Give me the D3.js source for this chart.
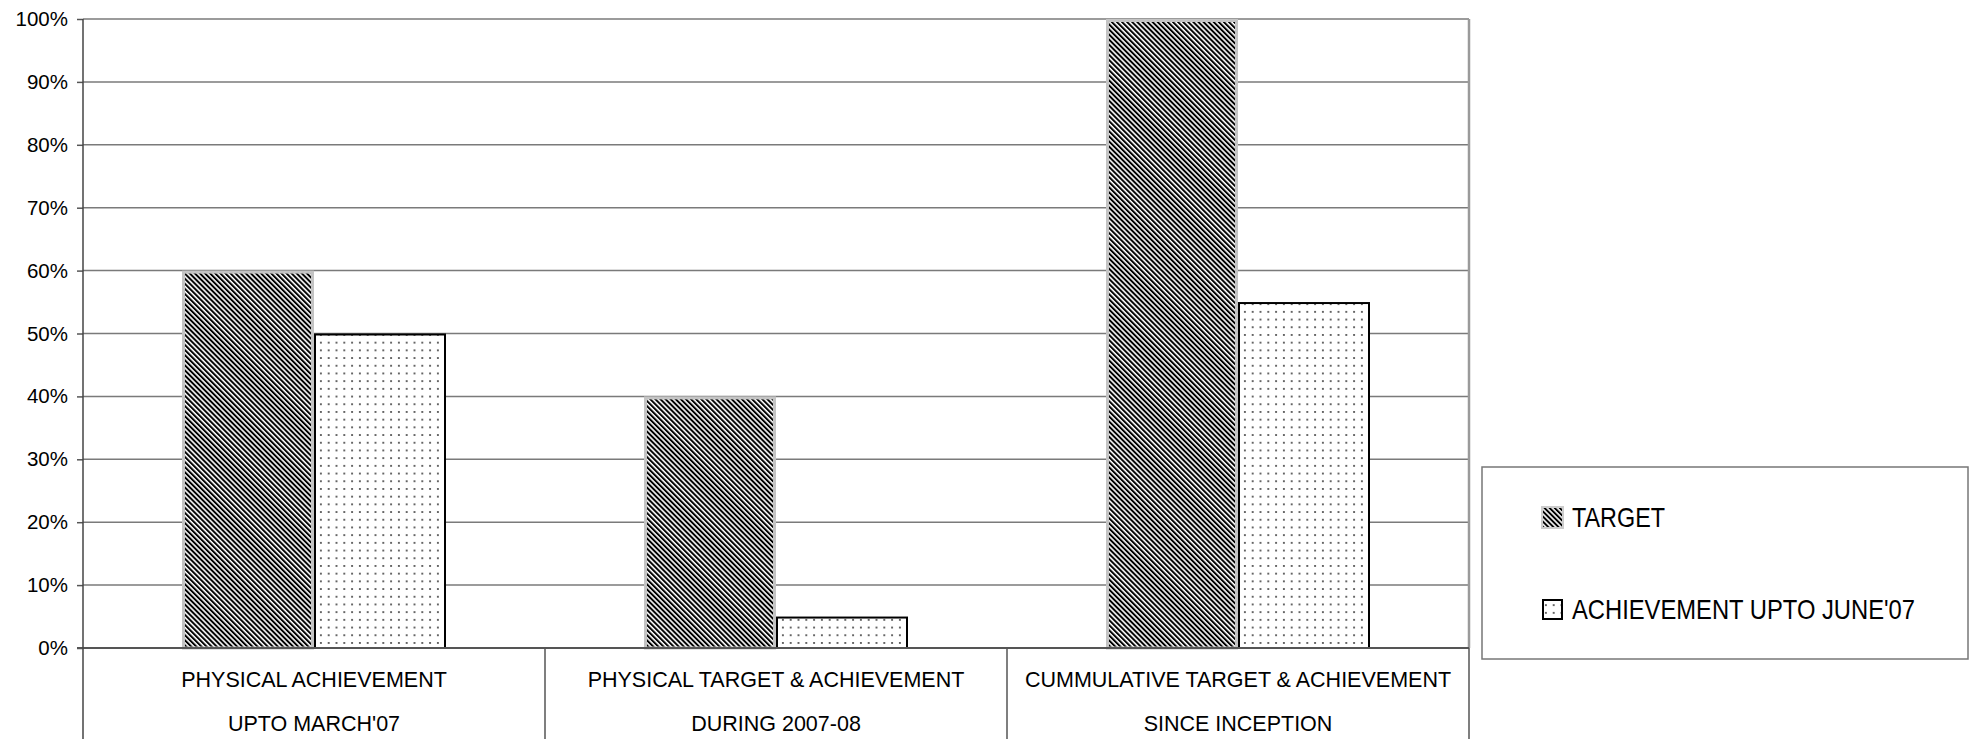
<!DOCTYPE html>
<html>
<head>
<meta charset="utf-8">
<script src="https://cdn.jsdelivr.net/npm/d3@7"></script>
<style>
  html, body { margin: 0; padding: 0; background: #fff; }
  svg { display: block; }
</style>
</head>
<body>
<svg id="chart" width="1970" height="739"></svg>
<script>
// ---- data ----
const categoryLine1 = ["PHYSICAL ACHIEVEMENT", "PHYSICAL TARGET & ACHIEVEMENT", "CUMMULATIVE TARGET & ACHIEVEMENT"];
const categoryLine2 = ["UPTO MARCH'07", "DURING 2007-08", "SINCE INCEPTION"];
const seriesNames = ["TARGET", "ACHIEVEMENT UPTO JUNE'07"];
const targetValues = [0.60, 0.40, 1.00];
const achievementValues = [0.50, 0.05, 0.55];
const yTicks = [0, 0.1, 0.2, 0.3, 0.4, 0.5, 0.6, 0.7, 0.8, 0.9, 1.0];

(function () {
const seriesValues = [targetValues, achievementValues];
const rows = categoryLine1.map((c, i) => ({ cat: i, line1: c, line2: categoryLine2[i] }));

// ---- layout ----
const pLeft = 83, pRight = 1469, pTop = 19, pBottom = 648, catBottom = 739;
const svg = d3.select("#chart");
const defs = svg.append("defs");

// hatch pattern for TARGET
const hatch = defs.append("pattern")
  .attr("id", "hatch").attr("patternUnits", "userSpaceOnUse")
  .attr("width", 3.6).attr("height", 10)
  .attr("patternTransform", "rotate(-45)");
hatch.append("rect").attr("width", 3.6).attr("height", 10).attr("fill", "#fff");
hatch.append("rect").attr("width", 2.0).attr("height", 10).attr("fill", "#000");

// dotted pattern for ACHIEVEMENT
const dots = defs.append("pattern")
  .attr("id", "dots").attr("patternUnits", "userSpaceOnUse")
  .attr("width", 7.8).attr("height", 7.7);
dots.append("rect").attr("width", 7.8).attr("height", 7.7).attr("fill", "#fff");
dots.append("circle").attr("cx", 3.9).attr("cy", 3.8).attr("r", 1.0).attr("fill", "#333");

const fills = ["url(#hatch)", "url(#dots)"];
const strokes = ["#c4c4c4", "#000"];
const strokeW = [3, 2];

const x = d3.scaleBand().domain(rows.map(r => r.cat)).range([pLeft, pRight]).paddingInner(0).paddingOuter(0);
const xs = d3.scaleBand().domain([0, 1]).range([0, x.bandwidth()]).paddingInner(0).paddingOuter(0.75);
const y = d3.scaleLinear().domain([0, 1]).range([pBottom, pTop]);

// gridlines
svg.append("g").selectAll("line").data(yTicks.filter(t => t > 0)).join("line")
  .attr("x1", pLeft).attr("x2", pRight)
  .attr("y1", d => y(d)).attr("y2", d => y(d))
  .attr("stroke", "#7a7a7a").attr("stroke-width", 1.5);

// right border
svg.append("line").attr("x1", pRight).attr("x2", pRight).attr("y1", pTop).attr("y2", pBottom)
  .attr("stroke", "#9a9a9a").attr("stroke-width", 2.5);

// y axis
const yAxis = d3.axisLeft(y).tickValues(yTicks).tickFormat(d3.format(".0%")).tickSize(6).tickPadding(9);
const gy = svg.append("g").attr("transform", `translate(${pLeft},0)`).call(yAxis);
gy.select(".domain").remove();
gy.selectAll(".tick line").attr("stroke", "#555").attr("stroke-width", 1.5);
gy.selectAll(".tick text").attr("font-family", "Liberation Sans, Arial, sans-serif")
  .attr("font-size", 20.5).attr("fill", "#000");

// bars
const groups = svg.append("g").selectAll("g").data(rows).join("g")
  .attr("transform", d => `translate(${x(d.cat)},0)`);
groups.selectAll("rect").data(d => seriesValues.map((vals, s) => ({ s, v: vals[d.cat] }))).join("rect")
  .attr("x", d => xs(d.s) + strokeW[d.s] / 2)
  .attr("width", d => xs.bandwidth() - strokeW[d.s])
  .attr("y", d => y(d.v) + strokeW[d.s] / 2)
  .attr("height", d => y(0) - y(d.v) - strokeW[d.s] / 2)
  .attr("fill", d => fills[d.s])
  .attr("stroke", d => strokes[d.s])
  .attr("stroke-width", d => strokeW[d.s]);

// axes lines
svg.append("line").attr("x1", pLeft - 6).attr("x2", pRight).attr("y1", pBottom).attr("y2", pBottom)
  .attr("stroke", "#555").attr("stroke-width", 2);
svg.append("line").attr("x1", pLeft).attr("x2", pLeft).attr("y1", pTop).attr("y2", catBottom)
  .attr("stroke", "#444").attr("stroke-width", 1.5);

// category dividers
const dividers = rows.map(r => x(r.cat)).slice(1).concat([pRight]);
svg.append("g").selectAll("line").data(dividers).join("line")
  .attr("x1", d => d).attr("x2", d => d).attr("y1", pBottom).attr("y2", catBottom)
  .attr("stroke", "#555").attr("stroke-width", 1.5);

// category labels
const cl = svg.append("g").attr("font-family", "Liberation Sans, Arial, sans-serif")
  .attr("font-size", 21.5).attr("fill", "#000").attr("text-anchor", "middle");
cl.selectAll("text.l1").data(rows).join("text").attr("class", "l1")
  .attr("x", d => x(d.cat) + x.bandwidth() / 2).attr("y", 687).text(d => d.line1);
cl.selectAll("text.l2").data(rows).join("text").attr("class", "l2")
  .attr("x", d => x(d.cat) + x.bandwidth() / 2).attr("y", 731).text(d => d.line2);

// legend
svg.append("rect").attr("x", 1482).attr("y", 467).attr("width", 486).attr("height", 192)
  .attr("fill", "#fff").attr("stroke", "#777").attr("stroke-width", 1.5);
const legendY = [517, 609];
const legendTextW = [93, 343];
const lg = svg.append("g").selectAll("g").data(seriesNames).join("g")
  .attr("transform", (d, i) => `translate(1542,${legendY[i]})`);
lg.append("rect")
  .attr("x", (d, i) => i === 0 ? 0 : 1).attr("y", (d, i) => i === 0 ? -10 : -9)
  .attr("width", (d, i) => i === 0 ? 21 : 19).attr("height", (d, i) => i === 0 ? 21 : 19)
  .attr("fill", (d, i) => fills[i])
  .attr("stroke", (d, i) => i === 0 ? "#ccc" : "#000")
  .attr("stroke-width", 2);
lg.append("text").attr("x", 30).attr("y", 10)
  .attr("font-family", "Liberation Sans Narrow, Arial Narrow, Liberation Sans, sans-serif")
  .attr("font-size", 28).attr("fill", "#000")
  .attr("textLength", (d, i) => legendTextW[i]).attr("lengthAdjust", "spacingAndGlyphs")
  .text(d => d);
})();
</script>
</body>
</html>
